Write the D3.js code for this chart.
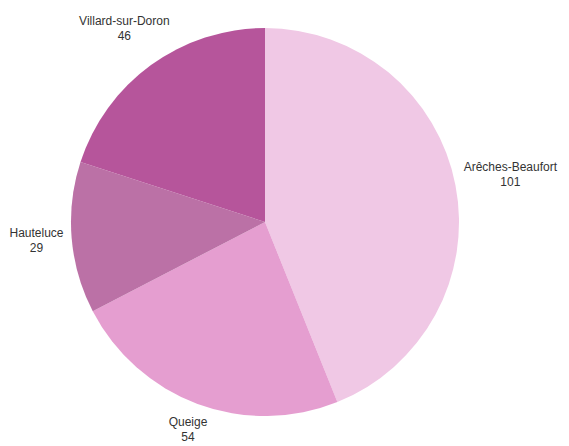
<!DOCTYPE html>
<html>
<head>
<meta charset="utf-8">
<script src="https://cdn.jsdelivr.net/npm/d3@7"></script>
<style>
  body { margin: 0; background: #fff; }
  text { font-family: "Liberation Sans", Arial, sans-serif; font-size: 12px; fill: #333; }
</style>
</head>
<body>
<div id="chart"></div>
<script>
const communes = ["Arêches-Beaufort", "Queige", "Hauteluce", "Villard-sur-Doron"];
const counts = [101, 54, 29, 46];
const colors = ["#f0c8e5", "#e59ed0", "#bb71a6", "#b6559b"];

const width = 569, height = 446;
const cx = 265, cy = 222, radius = 194;

const svg = d3.select("#chart").append("svg")
    .attr("width", width)
    .attr("height", height);

const g = svg.append("g").attr("transform", `translate(${cx},${cy})`);

const data = communes.map((c, i) => ({ name: c, value: counts[i], color: colors[i] }));

const pie = d3.pie().sort(null).value(d => d.value);
const arc = d3.arc().innerRadius(0).outerRadius(radius);

const slices = pie(data);

g.selectAll("path.slice")
    .data(slices)
    .join("path")
    .attr("class", "slice")
    .attr("d", arc)
    .attr("fill", d => d.data.color);

// labels: two lines, pushed out along the mid angle until the box clears the pie
const labels = g.selectAll("g.label")
    .data(slices)
    .join("g")
    .attr("class", "label");

labels.append("text")
    .attr("text-anchor", "middle")
    .attr("y", -3)
    .text(d => d.data.name);
labels.append("text")
    .attr("text-anchor", "middle")
    .attr("y", 12)
    .text(d => d.data.value);

labels.attr("transform", function (d) {
  const bb = this.getBBox();
  const a = (d.startAngle + d.endAngle) / 2;
  const s = Math.sin(a), c = Math.cos(a);
  const hw = bb.width / 2, hh = bb.height / 2;
  const dist = radius + 7 + Math.abs(s) * hw + Math.abs(c) * hh;
  const midY = bb.y + hh;
  return `translate(${dist * s},${-dist * c - midY})`;
});
</script>
</body>
</html>
